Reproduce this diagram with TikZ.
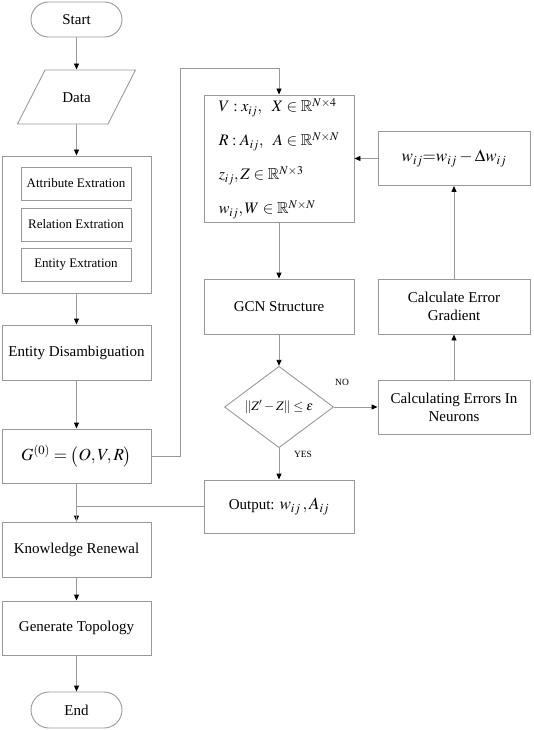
\documentclass[tikz,border=0pt]{standalone}
\usepackage{amsmath}
\usepackage{mathptmx}
\usepackage{amssymb}
\usepackage{fontspec}
\setmainfont{Liberation Serif}
\usetikzlibrary{shapes.geometric,arrows.meta}
\newlength{\du}
\setlength{\du}{1pt}
\definecolor{dialinecolor}{rgb}{0.600000, 0.600000, 0.600000}
\tikzset{
  flowbox/.style={draw=dialinecolor, line width=0.9\du, inner sep=0pt,
    minimum width=149\du, minimum height=55\du, align=center,
    font=\fontsize{15}{18}\selectfont},
  subbox/.style={flowbox, minimum width=110\du, minimum height=33\du,
    font=\fontsize{13}{15}\selectfont},
  terminal/.style={flowbox, minimum width=91\du, minimum height=35\du,
    rounded corners=17.5\du},
  databox/.style={flowbox, trapezium, trapezium left angle=63,
    trapezium right angle=117, trapezium stretches body,
    inner xsep=0pt, inner ysep=21.5\du, text height=11\du, text depth=0pt,
    minimum width=118\du, minimum height=0pt},
  decision/.style={flowbox, diamond, minimum width=109\du,
    minimum height=65\du, font=\fontsize{13}{15}\selectfont},
  tag/.style={inner sep=0pt, font=\fontsize{9.5}{11}\selectfont},
  flowline/.style={draw=dialinecolor, line width=0.9\du},
  flowarrow/.style={flowline,
    -{Triangle[length=6pt,width=5pt,color=black]}}
}
\begin{document}
\begin{tikzpicture}
\pgftransformxscale{1.000000}
\pgftransformyscale{-1.000000}
\useasboundingbox (0\du,0\du) rectangle (533\du,730\du);
% left column
\node[terminal] (start) at (76.5\du,19.5\du) {Start};
\node[databox] (data) at (76.5\du,97\du) {Data};
\node[flowbox, minimum height=137\du] (extract) at (76.5\du,224.5\du) {};
\node[subbox] (attr) at (76\du,183.5\du) {Attribute Extration};
\node[subbox] (rel) at (76\du,224.5\du) {Relation Extration};
\node[subbox] (ent) at (76\du,264.5\du) {Entity Extration};
\node[flowbox] (disamb) at (76.5\du,352.5\du) {Entity Disambiguation};
\node[flowbox, minimum height=54\du, font=\fontsize{17}{20}\selectfont] (graph) at (76.5\du,456\du) {$G^{(0)}=\bigl(O,V,R\bigr)$};
\node[flowbox] (renewal) at (76.5\du,549.5\du) {Knowledge Renewal};
\node[flowbox, minimum height=54\du] (topology) at (76.5\du,628\du) {Generate Topology};
\node[terminal, minimum height=36\du, rounded corners=18\du] (end) at (76.5\du,710\du) {End};
% middle column
\node[flowbox, minimum width=150\du, minimum height=127\du, align=left,
  font=\fontsize{16}{34}\selectfont] (feature) at (279\du,158.5\du)
  {$V:x_{ij},\ \ X\in\mathbb{R}^{N\times 4}$\\
   $R:A_{ij},\ \ A\in\mathbb{R}^{N\times N}$\\
   $z_{ij},Z\in\mathbb{R}^{N\times 3}$\\
   $w_{ij},W\in\mathbb{R}^{N\times N}$};
\node[flowbox, minimum width=150\du] (gcn) at (279\du,306.5\du) {GCN Structure};
\node[decision] (check) at (279\du,407\du) {$\left\|Z^{\prime}-Z\right\|\le\varepsilon$};
\node[flowbox, minimum width=150\du, minimum height=53\du] (output) at (279\du,506.5\du) {Output: {\fontsize{17}{20}\selectfont$w_{ij}\,,A_{ij}$}};
% right column
\node[flowbox, minimum width=152\du, minimum height=54\du, font=\fontsize{17}{20}\selectfont] (update) at (454\du,158.5\du) {$w_{ij}{=}w_{ij}-\Delta w_{ij}$};
\node[flowbox, minimum width=152\du] (gradient) at (454\du,306.5\du) {Calculate Error\\Gradient};
\node[flowbox, minimum width=152\du, minimum height=54\du] (errors) at (454\du,407\du) {Calculating Errors In\\Neurons};
\node[tag] (no) at (342\du,382\du) {NO};
\node[tag] (yes) at (303\du,454\du) {YES};
\coordinate (loop) at (180\du,68\du);
% connectors
\draw[flowarrow] (start) -- (data);
\draw[flowarrow] (data) -- (extract);
\draw[flowarrow] (extract) -- (disamb);
\draw[flowarrow] (disamb) -- (graph);
\draw[flowarrow] (graph) -- (renewal);
\draw[flowline] (output.west) -| (renewal.north);
\draw[flowarrow] (renewal) -- (topology);
\draw[flowarrow] (topology) -- (end);
\draw[flowarrow] (graph.east) -| (loop) -| (feature.north);
\draw[flowarrow] (feature) -- (gcn);
\draw[flowarrow] (gcn) -- (check);
\draw[flowarrow] (check) -- (output);
\draw[flowarrow] (check) -- (errors);
\draw[flowarrow] (errors) -- (gradient);
\draw[flowarrow] (gradient) -- (update);
\draw[flowarrow] (update) -- (feature);
\end{tikzpicture}
\end{document}
